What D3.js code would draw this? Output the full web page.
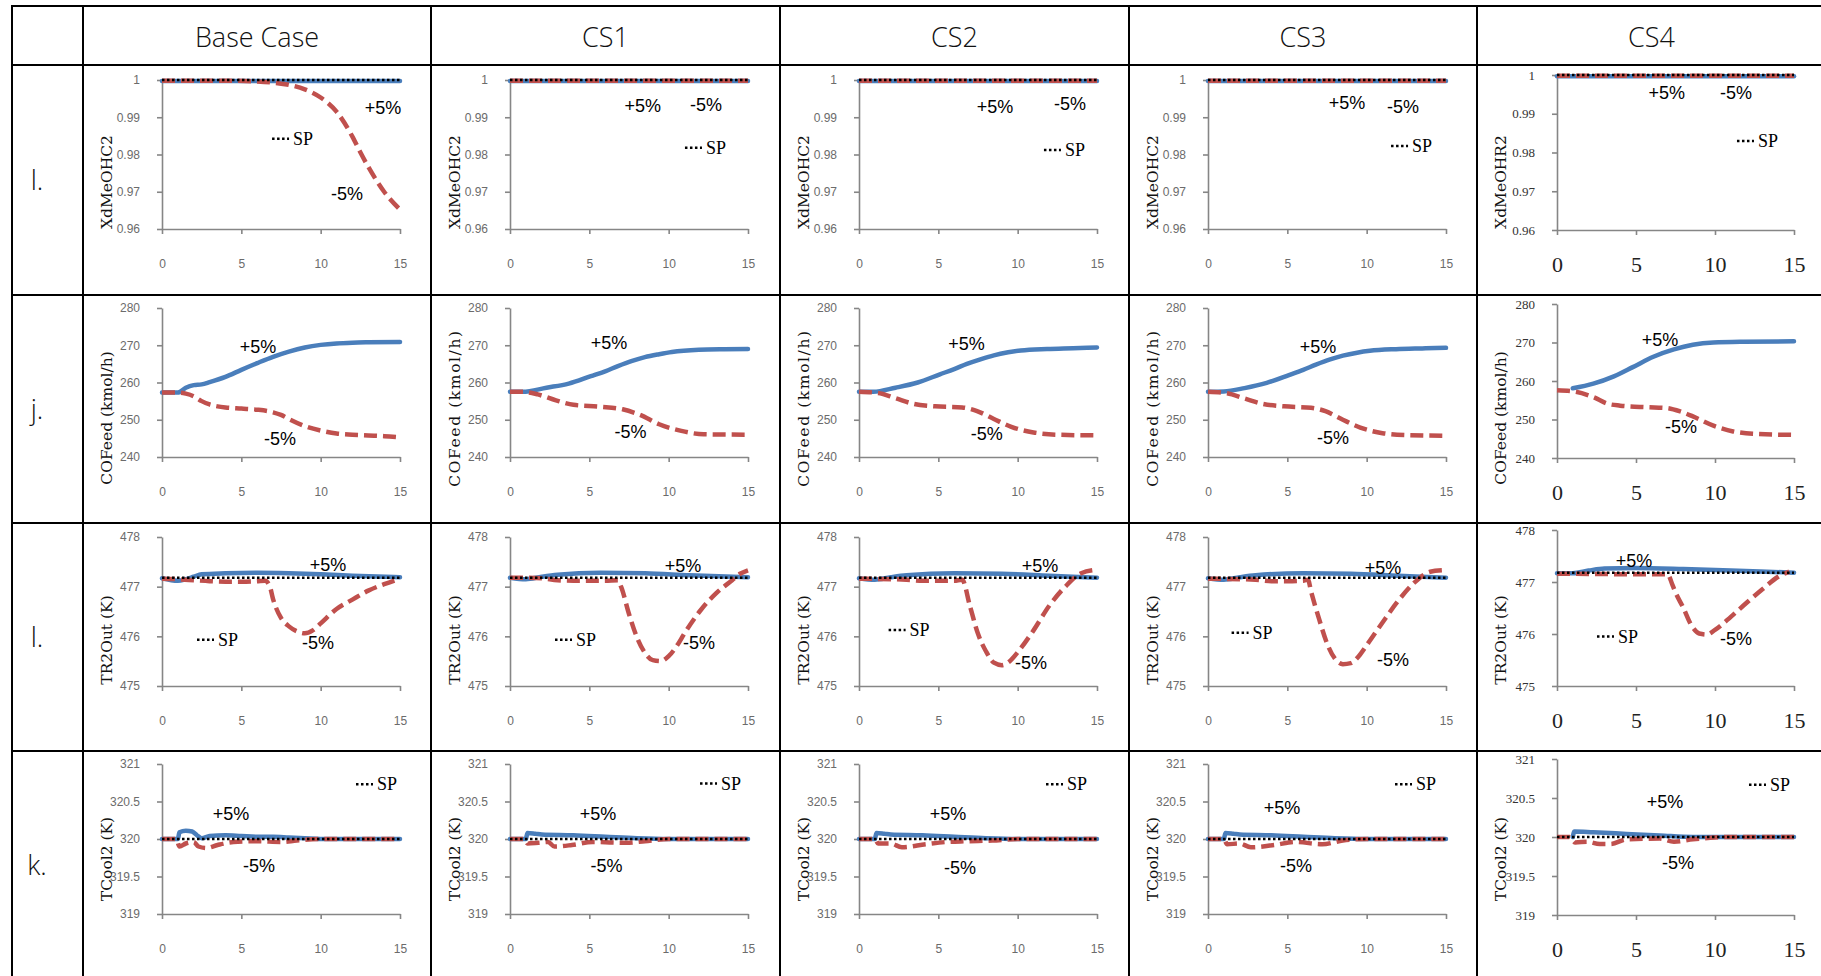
<!DOCTYPE html>
<html>
<head>
<meta charset="utf-8">
<script src="https://cdn.jsdelivr.net/npm/d3@7"></script>
<style>
  body { margin: 0; background: #fff; }
  svg { display: block; }
</style>
</head>
<body>
<svg id="chart" width="1821" height="976"></svg>
<script>
// ---- table headings ----
const caseNames = ["Base Case", "CS1", "CS2", "CS3", "CS4"];
const rowLabels = ["l.", "j.", "l.", "k."];
const yTitles = [
  ["XdMeOHC2", "XdMeOHC2", "XdMeOHC2", "XdMeOHC2", "XdMeOHR2"],
  ["COFeed (kmol/h)", "COFeed (kmol/h)", "COFeed (kmol/h)", "COFeed (kmol/h)", "COFeed (kmol/h)"],
  ["TR2Out (K)", "TR2Out (K)", "TR2Out (K)", "TR2Out (K)", "TR2Out (K)"],
  ["TCool2 (K)", "TCool2 (K)", "TCool2 (K)", "TCool2 (K)", "TCool2 (K)"]
];

// ---- axes ----
const yDomains = [[0.96, 1], [240, 280], [475, 478], [319, 321]];
const yTickValues = [
  [0.96, 0.97, 0.98, 0.99, 1],
  [240, 250, 260, 270, 280],
  [475, 476, 477, 478],
  [319, 319.5, 320, 320.5, 321]
];
const xTickValues = [0, 5, 10, 15];
const setPoints = [1, null, 477.18, 320];

// ---- XdMeOHC2 responses [time, value] ----
const xdPlus = [
  [[0, 0.9997], [5, 0.9997], [10, 0.9997], [15, 0.9997]],
  [[0, 0.9997], [5, 0.9997], [10, 0.9997], [15, 0.9997]],
  [[0, 0.9997], [5, 0.9997], [10, 0.9997], [15, 0.9997]],
  [[0, 0.9997], [5, 0.9997], [10, 0.9997], [15, 0.9997]],
  [[0, 0.9997], [5, 0.9997], [10, 0.9997], [15, 0.9997]]
];
const xdMinus = [
  [[0, 0.9998], [2, 0.9998], [4, 0.9998], [6, 0.9996], [7, 0.9993], [8, 0.9987], [9, 0.9975],
   [10, 0.9953], [11, 0.9915], [12, 0.9848], [12.5, 0.9806], [13, 0.9767], [14, 0.9700], [15, 0.9652]],
  [[0, 0.9998], [5, 0.9998], [10, 0.9998], [15, 0.9998]],
  [[0, 0.9998], [5, 0.9998], [10, 0.9998], [15, 0.9998]],
  [[0, 0.9998], [5, 0.9998], [10, 0.9998], [15, 0.9998]],
  [[0, 0.9998], [5, 0.9998], [10, 0.9998], [15, 0.9998]]
];

// ---- COFeed responses ----
const coPlus = [
  [[0, 257.3], [1, 257.3], [1.5, 258.6], [2, 259.3], [2.5, 259.5], [3, 260.1], [4, 261.5], [5, 263.4],
   [6, 265.2], [7, 266.9], [8, 268.3], [9, 269.4], [10, 270.1], [11, 270.5], [12, 270.7], [13, 270.8], [15, 270.9]],
  [[0, 257.5], [0.8, 257.5], [2.3, 258.6], [3.7, 259.7], [5.1, 261.7], [6, 263.0], [6.8, 264.4], [7.7, 265.8],
   [8.5, 266.8], [9.4, 267.6], [10.2, 268.2], [11.9, 268.8], [13.5, 268.95], [15, 269.0]],
  [[0, 257.5], [0.9, 257.5], [2.3, 258.6], [3.7, 260.0], [5.1, 262.2], [6, 263.6], [6.8, 265.0], [7.7, 266.3],
   [8.5, 267.3], [9.4, 268.1], [10.2, 268.6], [11.85, 269.0], [13.5, 269.2], [15, 269.4]],
  [[0, 257.5], [1, 257.6], [2.3, 258.5], [3.7, 259.9], [5.1, 262.0], [6, 263.4], [6.8, 264.8], [7.7, 266.2],
   [8.5, 267.2], [9.4, 268.0], [10.2, 268.5], [11.85, 268.95], [13.5, 269.15], [15, 269.3]],
  [[1, 258.1], [2.3, 259.3], [3.6, 261.2], [4.8, 263.6], [6.1, 266.3], [7.4, 268.2], [8.6, 269.4],
   [9.9, 270.0], [11.8, 270.2], [15, 270.3]]
];
const coMinus = [
  [[0, 257.3], [1, 257.3], [1.5, 257.0], [2, 256.3], [2.5, 255.0], [3, 254.1], [3.5, 253.6], [4, 253.3],
   [5, 253.0], [6, 252.7], [7, 252.0], [7.5, 251.3], [8, 250.2], [9, 248.3], [10, 247.1], [11, 246.3],
   [12, 246.0], [13, 245.8], [14, 245.6], [15, 245.3]],
  [[0, 257.5], [0.8, 257.5], [1.75, 256.8], [2.9, 255.2], [4, 254.0], [5.7, 253.5], [7.1, 252.8], [8.2, 251.3],
   [9.4, 248.8], [10.8, 247.0], [12.2, 246.1], [15, 246.0]],
  [[0, 257.5], [1.2, 257.2], [2.3, 255.8], [3.4, 254.3], [4.8, 253.6], [6.5, 253.3], [7.4, 252.4], [8.5, 250.2],
   [9.6, 248.1], [11.0, 246.6], [12.4, 246.0], [15, 245.8]],
  [[0, 257.5], [1.2, 257.1], [2.3, 255.7], [3.4, 254.3], [4.8, 253.6], [6.5, 253.2], [7.4, 252.3], [8.5, 250.0],
   [9.6, 247.9], [11.0, 246.4], [12.4, 245.9], [15, 245.7]],
  [[0, 257.6], [1.05, 257.3], [2.3, 255.8], [3.2, 254.1], [4, 253.6], [5.7, 253.2], [6.9, 253.0], [7.8, 252.1],
   [8.6, 250.8], [9.9, 248.4], [11.15, 246.9], [12.4, 246.3], [15, 246.0]]
];

// ---- TR2Out responses ----
const trPlus = [
  [[0, 477.17], [1, 477.12], [1.5, 477.15], [2, 477.2], [2.5, 477.25], [4, 477.27], [6, 477.28], [8, 477.27],
   [10, 477.25], [12, 477.22], [15, 477.19]],
  [[0, 477.18], [1, 477.15], [2, 477.2], [3, 477.24], [5.7, 477.28], [8.5, 477.27], [11.3, 477.23], [15, 477.19]],
  [[0, 477.17], [1, 477.14], [2, 477.19], [3, 477.23], [6, 477.27], [9, 477.26], [12, 477.22], [15, 477.18]],
  [[0, 477.17], [1, 477.14], [2, 477.19], [3, 477.23], [6, 477.27], [9, 477.26], [12, 477.22], [15, 477.18]],
  [[0, 477.17], [1, 477.17], [2, 477.22], [3, 477.26], [5, 477.27], [8, 477.25], [11, 477.22], [15, 477.18]]
];
const trMinus = [
  [[0, 477.16], [1, 477.15], [2, 477.13], [3, 477.11], [4, 477.1], [5, 477.1], [6, 477.11], [6.5, 477.12],
   [6.8, 477.0], [7, 476.75], [7.5, 476.37], [8, 476.2], [8.5, 476.1], [9, 476.06], [9.5, 476.12], [10, 476.26],
   [11, 476.55], [12, 476.74], [13, 476.92], [14, 477.05], [15, 477.16]],
  [[0, 477.18], [1, 477.18], [2, 477.17], [3, 477.13], [4, 477.12], [5, 477.12], [6, 477.12], [6.8, 477.13],
   [7, 477.0], [7.5, 476.45], [8, 475.98], [8.5, 475.67], [9, 475.52], [9.5, 475.5], [10, 475.6], [10.5, 475.8],
   [11, 476.06], [12, 476.52], [13, 476.87], [14, 477.13], [14.5, 477.26], [15, 477.33]],
  [[0, 477.16], [3, 477.14], [4, 477.12], [5, 477.12], [6, 477.12], [6.5, 477.14], [7, 476.6], [7.5, 476.05],
   [8, 475.7], [8.5, 475.47], [9, 475.42], [9.5, 475.5], [10, 475.68], [11, 476.12], [12, 476.62], [13, 477.0],
   [14, 477.27], [15, 477.34]],
  [[0, 477.16], [3, 477.14], [4, 477.11], [5, 477.11], [6, 477.12], [6.3, 477.14], [6.5, 476.9], [7, 476.35],
   [7.5, 475.86], [8, 475.55], [8.5, 475.44], [9, 475.46], [9.5, 475.6], [10, 475.82], [11, 476.28], [12, 476.72],
   [13, 477.08], [14, 477.3], [14.8, 477.33]],
  [[0, 477.16], [5, 477.15], [7, 477.15], [7.3, 476.95], [7.5, 476.8], [8, 476.5], [8.5, 476.17], [9, 476.01],
   [9.5, 475.99], [10, 476.08], [11, 476.33], [12, 476.6], [13, 476.86], [14, 477.1], [14.7, 477.2]]
];

// ---- TCool2 responses ----
const tcPlus = [
  [[0, 320], [1, 320], [1.1, 320.09], [1.5, 320.11], [1.9, 320.1], [2.2, 320.05], [2.5, 320.01], [3, 320.04],
   [4, 320.05], [5, 320.04], [6, 320.03], [7, 320.03], [8, 320.02], [9, 320.01], [10, 320.0], [15, 320.0]],
  [[0, 320], [1, 320], [1.1, 320.08], [1.6, 320.07], [2, 320.06], [4, 320.05], [6, 320.03], [8, 320.01],
   [10, 320.0], [15, 320.0]],
  [[0, 320], [1, 320], [1.1, 320.08], [1.6, 320.07], [2, 320.06], [4, 320.05], [6, 320.03], [8, 320.01],
   [10, 320.0], [15, 320.0]],
  [[0, 320], [1, 320], [1.1, 320.08], [1.6, 320.07], [2, 320.06], [4, 320.05], [6, 320.03], [8, 320.01],
   [10, 320.0], [15, 320.0]],
  [[1, 320.0], [1.1, 320.07], [2.3, 320.06], [4.4, 320.04], [6.5, 320.02], [8.6, 320.0], [15, 320.0]]
];
const tcMinus = [
  [[0, 320], [0.9, 320], [1.1, 319.9], [1.5, 319.94], [2, 319.96], [2.3, 319.9], [2.8, 319.88], [3.5, 319.92],
   [4.5, 319.96], [6, 319.97], [7.5, 319.96], [8.5, 319.98], [10, 320], [15, 320]],
  [[0, 320], [0.9, 320], [1.1, 319.94], [1.8, 319.95], [2.4, 319.96], [2.8, 319.9], [3.9, 319.92], [5.2, 319.96],
   [7.3, 319.95], [8.5, 319.97], [10, 320], [15, 320]],
  [[0, 320], [1, 320], [1.2, 319.94], [2, 319.94], [2.7, 319.89], [4.2, 319.93], [5.5, 319.96], [6.8, 319.97],
   [8.4, 319.98], [10, 320], [15, 320]],
  [[0, 320], [1, 320], [1.2, 319.93], [2, 319.94], [2.7, 319.89], [4.2, 319.92], [5.5, 319.96], [7.2, 319.93],
   [8.5, 319.98], [10, 320], [15, 320]],
  [[0, 320], [0.8, 320], [1.16, 319.93], [1.9, 319.94], [2.7, 319.91], [3.4, 319.91], [4.4, 319.97], [6.5, 319.98],
   [7.4, 319.94], [8.6, 319.97], [9.7, 319.99], [11, 320], [15, 320]]
];

// ---- annotation anchors, in data units [time, value] ----
const plusLabels = [
  [[13.93, 0.9925], [8.36, 0.9930], [8.57, 0.99275], [8.76, 0.9938], [6.94, 0.9954]],
  [[6.05, 269.5], [6.24, 270.6], [6.78, 270.3], [6.93, 269.5], [6.52, 270.7]],
  [[10.46, 477.44], [10.9, 477.42], [11.41, 477.42], [11.03, 477.38], [4.87, 477.4]],
  [[4.35, 320.33], [5.55, 320.34], [5.61, 320.33], [4.66, 320.42], [6.84, 320.45]]
];
const minusLabels = [
  [[11.66, 0.9694], [12.35, 0.9933], [13.30, 0.99356], [12.29, 0.99275], [11.33, 0.9954]],
  [[7.44, 244.8], [7.59, 246.6], [8.05, 246.2], [7.88, 245.1], [7.85, 248.0]],
  [[9.83, 475.87], [11.91, 475.87], [10.84, 475.46], [11.66, 475.52], [11.33, 475.91]],
  [[6.11, 319.64], [6.08, 319.64], [6.37, 319.62], [5.55, 319.64], [7.66, 319.67]]
];
const spLabels = [
  [[8.26, 0.9842], [12.35, 0.9818], [12.98, 0.9812], [12.86, 0.9823], [12.72, 0.9830]],
  null,
  [[3.53, 475.93], [4.16, 475.93], [3.19, 476.13], [2.81, 476.07], [3.86, 475.95]],
  [[13.55, 320.73], [13.3, 320.74], [13.11, 320.73], [13.11, 320.73], [13.48, 320.67]]
];

const plusSeries = [xdPlus, coPlus, trPlus, tcPlus];
const minusSeries = [xdMinus, coMinus, trMinus, tcMinus];

// ---- layout ----
const W = 1821, H = 976;
const colX = [12, 83, 431, 780, 1129, 1477, 1826];
const rowY = [6, 65, 295, 523, 751, 979];
const plotTopOff = [15, 13, 14, 13];
const plotHeight = [149, 149, 149, 150];
const cs4TopOff = [10, 9, 7, 8];
const cs4Height = [155, 154, 156, 156];
const titleOff = [117, 123, 117, 108];

const BLUE = "#4a7ebb", RED = "#c0504d", AXIS = "#868686";
const sans = "'Liberation Sans', Arial, sans-serif";
const headFont = "'Open Sans', 'Liberation Sans', sans-serif";
const serif = "'Liberation Serif', 'Times New Roman', serif";
const titleSerif = "'DejaVu Serif', serif";

const svg = d3.select("#chart");
svg.append("rect").attr("width", W).attr("height", H).attr("fill", "#fff");

const plots = svg.append("g");
const grid = svg.append("g").attr("stroke", "#000").attr("stroke-width", 2);

// table rules
colX.forEach(x => grid.append("line")
  .attr("x1", x).attr("x2", x).attr("y1", rowY[0] - 1).attr("y2", H + 5));
rowY.forEach(y => grid.append("line")
  .attr("x1", colX[0] - 1).attr("x2", W + 5).attr("y1", y).attr("y2", y));

// column headers
caseNames.forEach((name, c) => {
  svg.append("text")
    .attr("x", (colX[c + 1] + colX[c + 2]) / 2)
    .attr("y", (rowY[0] + rowY[1]) / 2 + 1)
    .attr("text-anchor", "middle").attr("dominant-baseline", "central")
    .attr("font-family", headFont).attr("font-weight", 300).attr("font-size", 27).attr("fill", "#111")
    .text(name);
});

// row labels
rowLabels.forEach((lab, r) => {
  svg.append("text")
    .attr("x", 37)
    .attr("y", (rowY[r + 1] + rowY[r + 2]) / 2 - 1)
    .attr("text-anchor", "middle").attr("dominant-baseline", "central")
    .attr("font-family", headFont).attr("font-weight", 300).attr("font-size", 27).attr("fill", "#111")
    .text(lab);
});

const fmt = d => String(d);

for (let r = 0; r < 4; r++) {
  for (let c = 0; c < 5; c++) {
    const cs4 = c === 4;
    const cellLeft = colX[c + 1], cellTop = rowY[r + 1];
    const left = cellLeft + (cs4 ? 80 : 79), right = cellLeft + 317;
    const top = cellTop + (cs4 ? cs4TopOff[r] : plotTopOff[r]);
    const bottom = top + (cs4 ? cs4Height[r] : plotHeight[r]);

    const x = d3.scaleLinear().domain([0, 15]).range([left, right]);
    const y = d3.scaleLinear().domain(yDomains[r]).range([bottom, top]);
    const g = plots.append("g");

    // y axis
    const ya = g.append("g").attr("transform", `translate(${left},0)`)
      .call(d3.axisLeft(y).tickValues(yTickValues[r]).tickFormat(fmt).tickSize(5).tickSizeOuter(0).tickPadding(17));
    // x axis
    const xa = g.append("g").attr("transform", `translate(0,${bottom})`)
      .call(d3.axisBottom(x).tickValues(xTickValues).tickFormat(fmt).tickSize(5).tickSizeOuter(0));
    [ya, xa].forEach(a => {
      a.select(".domain").attr("stroke", AXIS).attr("stroke-width", 1.6);
      a.selectAll(".tick line").attr("stroke", AXIS).attr("stroke-width", 1.6);
    });
    ya.selectAll("text")
      .attr("font-family", cs4 ? serif : sans)
      .attr("font-size", cs4 ? 13 : 12)
      .attr("fill", cs4 ? "#333" : "#6b6b6b");
    xa.selectAll("text")
      .attr("y", cs4 ? 34 : 35).attr("dy", "0.35em")
      .attr("font-family", cs4 ? serif : sans)
      .attr("font-size", cs4 ? 22 : 12)
      .attr("fill", cs4 ? "#222" : "#6b6b6b");

    // y-axis title (stretched in the CS1-CS3 COFeed panels)
    const wideTitle = r === 1 && c >= 1 && c <= 3;
    const tx = cellLeft + 24;
    const ty = cellTop + (wideTitle ? 113 : titleOff[r]);
    g.append("text")
      .attr("transform", `translate(${tx},${ty}) rotate(-90)`)
      .attr("text-anchor", "middle").attr("dominant-baseline", "central")
      .attr("font-family", titleSerif).attr("font-size", 15.5).attr("fill", "#111")
      .attr("letter-spacing", wideTitle ? "1.6px" : null)
      .text(yTitles[r][c]);

    const line = d3.line().x(d => x(d[0])).y(d => y(d[1])).curve(d3.curveMonotoneX);

    // +5% (solid blue)
    g.append("path").datum(plusSeries[r][c]).attr("d", line)
      .attr("fill", "none").attr("stroke", BLUE).attr("stroke-width", 4.5)
      .attr("stroke-linejoin", "round").attr("stroke-linecap", "round");
    // -5% (dashed red)
    g.append("path").datum(minusSeries[r][c]).attr("d", line)
      .attr("fill", "none").attr("stroke", RED).attr("stroke-width", 4.5)
      .attr("stroke-dasharray", "13,6").attr("stroke-linejoin", "round");
    // set point (dotted black)
    if (setPoints[r] !== null) {
      g.append("path").datum([[0, setPoints[r]], [15, setPoints[r]]]).attr("d", line)
        .attr("fill", "none").attr("stroke", "#000").attr("stroke-width", 2.5)
        .attr("stroke-dasharray", "2.5,2.5");
    }

    // annotations
    const pl = plusLabels[r][c], ml = minusLabels[r][c];
    g.append("text").attr("x", x(pl[0])).attr("y", y(pl[1]))
      .attr("text-anchor", "middle").attr("dominant-baseline", "central")
      .attr("font-family", sans).attr("font-size", 18).attr("fill", "#000").text("+5%");
    g.append("text").attr("x", x(ml[0])).attr("y", y(ml[1]))
      .attr("text-anchor", "middle").attr("dominant-baseline", "central")
      .attr("font-family", sans).attr("font-size", 18).attr("fill", "#000").text("-5%");
    if (spLabels[r]) {
      const sp = spLabels[r][c];
      const sx = x(sp[0]), sy = y(sp[1]);
      g.append("line").attr("x1", sx - 21).attr("x2", sx - 4).attr("y1", sy).attr("y2", sy)
        .attr("stroke", "#000").attr("stroke-width", 2.5).attr("stroke-dasharray", "2.5,2.5");
      g.append("text").attr("x", sx).attr("y", sy)
        .attr("dominant-baseline", "central")
        .attr("font-family", serif).attr("font-size", 18).attr("fill", "#000").text("SP");
    }
  }
}
</script>
</body>
</html>
